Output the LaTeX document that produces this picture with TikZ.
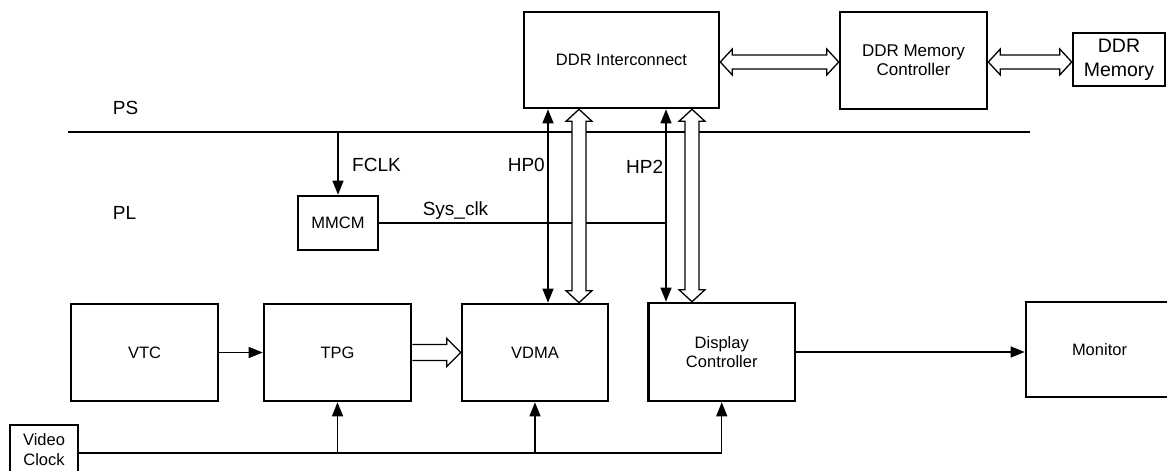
\documentclass[tikz,border=0pt]{standalone}
\usepackage{fontspec}
\setmainfont{Liberation Sans}
\usetikzlibrary{arrows.meta,calc}
\newcommand\vhollow[2]{\draw[hollow] let \p1=(#1), \p2=(#2) in (\x1,\y1) -- (\x1+13pt,\y1-12pt) -- (\x1+7pt,\y1-12pt) -- (\x1+7pt,\y2+12pt) -- (\x1+13pt,\y2+12pt) -- (\x1,\y2) -- (\x1-13pt,\y2+12pt) -- (\x1-7pt,\y2+12pt) -- (\x1-7pt,\y1-12pt) -- (\x1-13pt,\y1-12pt) -- cycle;}
\newcommand\hdhollow[2]{\draw[hollow] let \p1=(#1), \p2=(#2) in (\x1,\y1) -- (\x1+12pt,\y1+13pt) -- (\x1+12pt,\y1+7pt) -- (\x2-12pt,\y1+7pt) -- (\x2-12pt,\y1+13pt) -- (\x2,\y1) -- (\x2-12pt,\y1-13pt) -- (\x2-12pt,\y1-7pt) -- (\x1+12pt,\y1-7pt) -- (\x1+12pt,\y1-13pt) -- cycle;}
\newcommand\hshollow[2]{\draw[hollow] let \p1=(#1), \p2=(#2) in (\x1,\y1+8pt) -- (\x2-14pt,\y1+8pt) -- (\x2-14pt,\y1+14pt) -- (\x2,\y1) -- (\x2-14pt,\y1-14pt) -- (\x2-14pt,\y1-8pt) -- (\x1,\y1-8pt);}
\begin{document}
\begin{tikzpicture}[x=1pt,y=-1pt,
  box/.style={draw, line width=2.6pt, inner sep=0pt, align=center, font=\fontsize{16.5}{19.5}\selectfont},
  lbl/.style={inner sep=0pt, font=\fontsize{19}{22}\selectfont},
  conn/.style={line width=1.3pt, -{Triangle[length=14pt,width=11pt]}},
  bconn/.style={line width=1.3pt, {Triangle[length=14pt,width=11pt]}-{Triangle[length=14pt,width=11pt]}},
  plain/.style={line width=1.3pt},
  hollow/.style={draw, fill=white, line width=1.3pt, line join=miter},
  psbar/.style={line width=2.8pt}]
\useasboundingbox (0,0) rectangle (1167,471);

% boxes
\node[box, minimum width=195pt, minimum height=96pt] (ddri) at (621.5,60) {DDR Interconnect};
\node[box, minimum width=147pt, minimum height=97pt, font=\fontsize{17}{19}\selectfont] (ddrmc) at (913.5,60.5) {DDR Memory\\Controller};
\node[box, minimum width=92pt, minimum height=53pt, font=\fontsize{19.5}{24}\selectfont] (ddrm) at (1119,59.5) {DDR\\Memory};
\node[box, minimum width=80pt, minimum height=54pt] (mmcm) at (338,223) {MMCM};
\node[box, minimum width=147pt, minimum height=97pt] (vtc) at (144.5,352.5) {VTC};
\node[box, minimum width=147pt, minimum height=97pt] (tpg) at (337.5,352.5) {TPG};
\node[box, minimum width=146pt, minimum height=97pt] (vdma) at (535,352.5) {VDMA};
\node[box, minimum width=146.5pt, minimum height=98pt, font=\fontsize{16.5}{19}\selectfont] (dc) at (721.75,352) {Display\\Controller};
\node[box, minimum width=147pt, minimum height=95pt] (mon) at (1099.5,349.5) {Monitor};
\node[box, minimum width=68pt, minimum height=49pt, font=\fontsize{16.5}{20}\selectfont] (vclk) at (44,449.5) {Video\\Clock};

% labels
\node[lbl, anchor=base] (ps) at (125.5,114) {PS};
\node[lbl, anchor=base] (pl) at (124.5,219) {PL};
\node[lbl, anchor=base west] (fclk) at (352,171) {FCLK};
\node[lbl, anchor=base east] (hp0) at (545,171) {HP0};
\node[lbl, anchor=base west] (hp2) at (626,173) {HP2};
\node[lbl, anchor=base] (sysclk) at (455.5,215) {Sys\_clk};

% helper coordinates
\coordinate (psL) at (68,132);
\coordinate (psR) at (1030,132);
\coordinate (t0) at (548,0);
\coordinate (t2) at (666,0);
\coordinate (h0) at (579,0);
\coordinate (h2) at (692,0);
\coordinate (bus) at (0,62);
\coordinate (clk) at (0,453);

% PS/PL boundary and Sys_clk
\draw[psbar] (psL) -- (psR);
\draw[plain] (mmcm.east) -- (mmcm.east -| t2);

% hollow bus arrows
\vhollow{ddri.south -| h0}{vdma.north -| h0}
\vhollow{ddri.south -| h2}{dc.north -| h2}
\hdhollow{ddri.east |- bus}{ddrmc.west |- bus}
\hdhollow{ddrmc.east |- bus}{ddrm.west |- bus}
\hshollow{tpg.east}{vdma.west}

% thin arrows
\draw[conn] (mmcm.north |- psL) -- (mmcm.north);
\draw[bconn] (ddri.south -| t0) -- (vdma.north -| t0);
\draw[bconn] (ddri.south -| t2) -- (dc.north -| t2);
\draw[conn] (vtc.east) -- (tpg.west);
\draw[conn] (dc.east) -- (dc.east -| mon.west);
\draw[conn] (vclk.east |- clk) -| (dc.south);
\draw[conn] (tpg.south |- clk) -- (tpg.south);
\draw[conn] (vdma.south |- clk) -- (vdma.south);
\end{tikzpicture}
\end{document}
